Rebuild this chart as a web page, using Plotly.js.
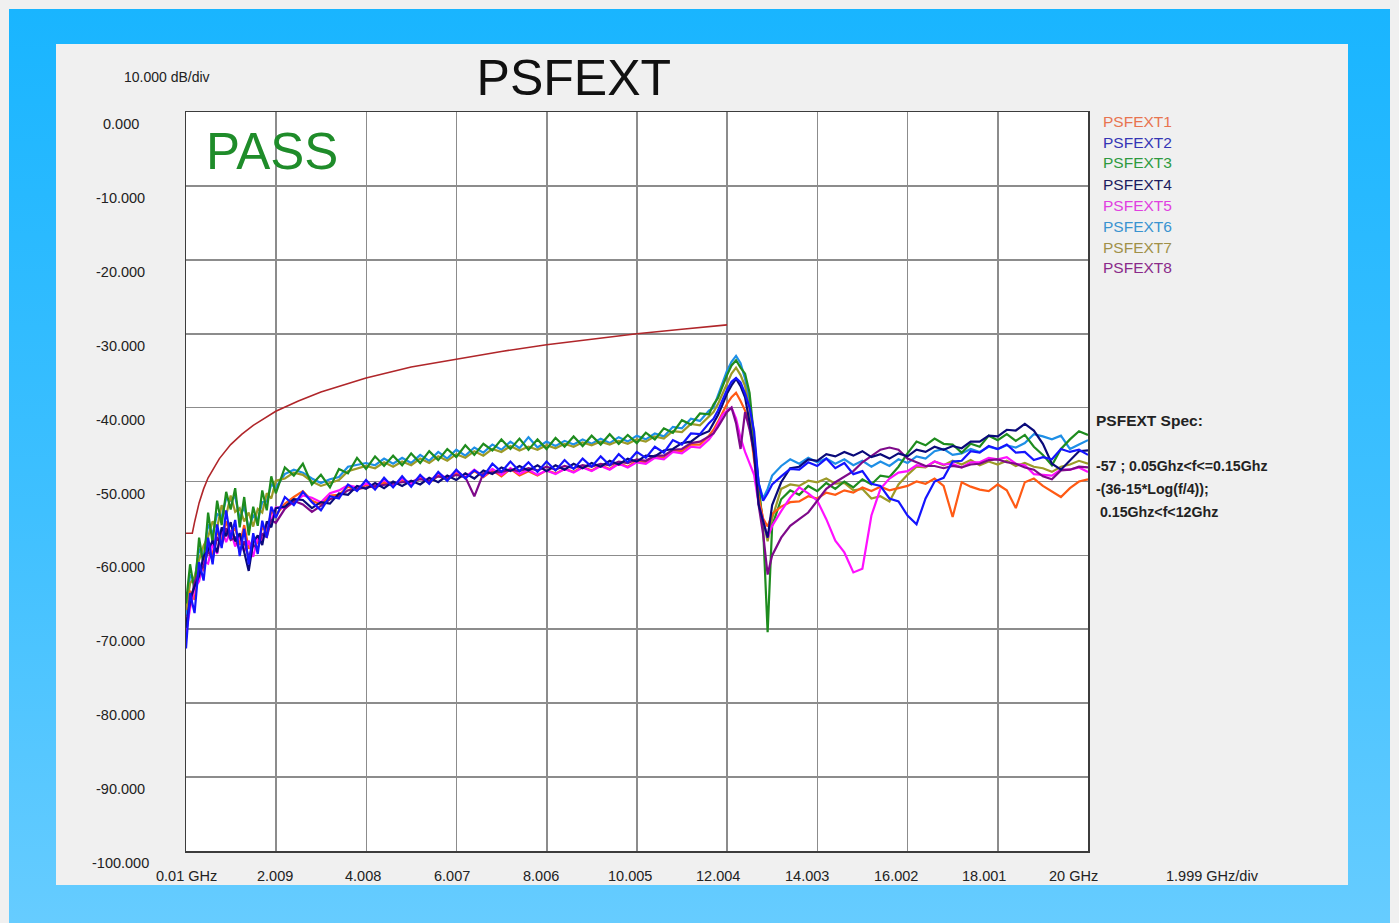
<!DOCTYPE html>
<html>
<head>
<meta charset="utf-8">
<script src="https://cdn.plot.ly/plotly-3.0.1.min.js"></script>
<style>
  html, body { margin: 0; padding: 0; background: #f0f0f0; width: 1399px; height: 923px; overflow: hidden; }
  #frame { position: absolute; left: 9px; top: 9px; width: 1381px; height: 914px;
           background: linear-gradient(180deg, #19b5ff 0%, #3fc0ff 55%, #66ccff 100%); }
  #chart { position: absolute; left: 56px; top: 44px; width: 1292px; height: 841px; }
</style>
</head>
<body>
<div id="frame"></div>
<div id="chart"></div>
<script>
// ---------------- DATA ----------------
const freqGHz = [
  0.01,0.1,0.2,0.3,0.4,0.5,0.6,0.7,0.8,0.9,1.0,1.1,1.2,1.3,1.4,1.5,1.6,1.7,1.8,1.9,2.0,
  2.2,2.4,2.6,2.8,3.0,3.2,3.4,3.6,3.8,4.0,4.2,4.4,4.6,4.8,5.0,5.2,5.4,5.6,5.8,6.0,6.2,6.4,6.6,6.8,7.0,7.2,7.4,7.6,7.8,8.0,8.2,8.4,8.6,8.8,9.0,9.2,9.4,9.6,9.8,10.0,10.2,10.4,10.6,10.8,11.0,11.2,11.4,11.6,
  11.7,11.8,11.9,12.0,12.1,12.2,12.3,12.4,12.5,12.6,12.7,12.8,12.9,13.0,
  13.2,13.4,13.6,13.8,14.0,14.2,14.4,14.6,14.8,15.0,15.2,15.4,15.6,15.8,16.0,16.2,16.4,16.6,16.8,17.0,17.2,17.4,17.6,17.8,18.0,18.2,18.4,18.6,18.8,19.0,19.2,19.4,19.6,19.8,20.0
];

const psfext1 = [
  -71.3,-64.8,-66.0,-61.5,-62.0,-58.3,-59.9,-56.8,-57.9,-55.4,-57.2,-56.3,-58.6,-55.9,-59.1,-57.8,-58.3,-56.2,-56.9,-54.1,-54.6,
  -53.0,-52.1,-51.3,-52.6,-53.1,-51.9,-51.8,-50.7,-51.2,-50.4,-50.9,-50.1,-50.6,-49.8,-50.4,-49.5,-50.2,-49.2,-49.8,-48.8,-49.5,-48.6,-49.4,-48.5,-49.3,-48.3,-49.2,-48.6,-49.2,-48.5,-48.9,-48.3,-48.7,-48.0,-48.5,-47.8,-48.3,-47.5,-48.0,-47.2,-47.4,-46.6,-46.8,-45.8,-45.9,-45.0,-45.0,-43.8,
  -43.0,-41.9,-40.6,-39.5,-38.6,-38.0,-39.1,-40.4,-42.1,-47.0,-52.1,-55.0,-56.1,-54.4,
  -53.4,-52.8,-52.7,-52.0,-52.3,-51.5,-51.8,-51.2,-51.5,-50.8,-51.3,-50.7,-51.2,-50.9,-50.6,-50.0,-50.3,-49.6,-50.6,-54.8,-50.1,-50.7,-51.1,-51.3,-50.4,-51.2,-53.6,-50.1,-49.6,-50.6,-51.4,-52.1,-50.9,-50.0,-49.7
];
const psfext2 = [
  -72.6,-65.1,-67.8,-60.9,-63.4,-57.6,-61.2,-55.8,-59.0,-53.9,-57.8,-55.2,-60.1,-56.4,-61.2,-57.0,-59.8,-55.3,-57.6,-53.4,-54.9,
  -52.1,-53.2,-51.4,-52.8,-53.9,-52.0,-52.3,-50.4,-51.3,-49.8,-51.1,-49.5,-50.8,-49.3,-50.7,-49.1,-50.3,-48.7,-49.9,-48.4,-49.6,-48.5,-49.3,-47.6,-48.7,-47.3,-48.6,-47.4,-48.7,-47.3,-48.5,-47.1,-48.3,-46.9,-48.0,-46.6,-47.8,-46.3,-47.4,-46.0,-46.8,-45.3,-46.1,-44.4,-45.0,-43.5,-43.6,-42.1,
  -41.5,-40.4,-39.0,-37.6,-36.5,-36.0,-36.6,-38.1,-40.0,-43.2,-50.2,-52.6,-51.6,-50.4,
  -49.3,-48.3,-48.4,-47.4,-47.9,-46.9,-48.2,-47.5,-49.0,-48.6,-50.3,-50.6,-52.3,-52.7,-54.6,-55.8,-52.3,-50.0,-49.5,-47.3,-47.2,-45.9,-46.1,-45.2,-45.6,-45.0,-46.1,-46.0,-47.1,-46.7,-47.0,-45.6,-46.0,-45.7,-46.4
];
const psfext3 = [
  -66.5,-61.2,-64.8,-57.6,-61.4,-54.2,-58.3,-52.6,-55.9,-51.4,-53.8,-50.9,-56.2,-52.1,-57.3,-53.4,-56.0,-51.2,-53.9,-49.3,-51.6,
  -48.1,-49.2,-47.6,-50.4,-49.1,-50.8,-48.3,-48.9,-46.8,-48.3,-46.6,-47.9,-46.5,-47.8,-46.2,-47.5,-45.9,-47.1,-45.6,-46.7,-45.1,-46.4,-44.9,-45.8,-44.3,-45.6,-44.2,-45.7,-44.3,-45.6,-44.1,-45.3,-43.9,-45.2,-43.8,-45.0,-43.6,-44.9,-43.7,-44.8,-43.4,-44.3,-42.8,-43.4,-41.7,-42.3,-40.8,-40.9,
  -39.6,-38.7,-37.0,-35.6,-34.3,-33.6,-34.6,-35.4,-38.0,-44.2,-51.0,-56.3,-70.4,-56.0,
  -52.4,-51.2,-51.8,-50.6,-51.3,-50.2,-51.0,-50.0,-50.8,-49.7,-50.4,-49.2,-49.4,-48.0,-46.2,-44.6,-45.1,-44.2,-44.9,-45.0,-46.1,-44.9,-45.3,-43.8,-44.4,-43.6,-44.5,-43.7,-45.3,-46.4,-47.8,-45.6,-44.3,-43.2,-43.7
];
const psfext4 = [
  -69.8,-66.0,-64.2,-62.8,-60.1,-59.3,-58.0,-59.6,-56.2,-57.4,-55.5,-58.1,-57.0,-59.4,-62.1,-58.2,-57.3,-58.6,-55.4,-56.2,-53.6,
  -53.4,-52.4,-52.5,-53.6,-52.8,-53.0,-51.6,-51.8,-50.6,-51.0,-50.2,-50.9,-50.0,-50.6,-49.9,-50.4,-49.5,-50.1,-49.2,-49.8,-48.9,-49.6,-48.5,-49.0,-48.1,-48.6,-47.9,-48.5,-47.8,-48.6,-47.8,-48.4,-47.6,-48.2,-47.5,-48.0,-47.2,-47.7,-46.9,-47.3,-46.5,-46.6,-45.8,-45.6,-44.8,-44.6,-43.7,-43.2,
  -42.1,-41.0,-39.6,-38.1,-37.0,-36.1,-37.1,-38.6,-42.0,-46.1,-53.1,-55.2,-57.6,-53.2,
  -50.1,-48.2,-48.0,-47.0,-47.2,-46.3,-46.6,-46.0,-46.5,-45.9,-46.7,-46.3,-46.9,-46.2,-46.6,-45.7,-46.0,-45.3,-45.7,-45.2,-45.5,-44.6,-44.6,-43.8,-43.9,-43.0,-43.1,-42.2,-43.1,-44.9,-47.6,-48.4,-47.1,-45.9,-45.8
];
const psfext5 = [
  -70.5,-67.2,-64.4,-63.5,-60.8,-61.1,-58.4,-59.8,-56.5,-58.2,-56.6,-58.8,-57.4,-59.5,-58.0,-60.2,-57.4,-58.1,-55.8,-55.3,-53.5,
  -53.6,-52.8,-51.9,-52.2,-52.8,-51.6,-51.2,-50.5,-50.8,-50.3,-50.6,-49.8,-50.5,-49.6,-50.3,-49.3,-50.0,-48.9,-49.6,-48.6,-49.4,-48.4,-49.3,-48.3,-49.1,-48.2,-49.0,-48.4,-49.1,-48.5,-49.0,-48.3,-48.8,-48.1,-48.6,-47.9,-48.4,-47.6,-48.1,-47.4,-47.6,-46.8,-47.0,-46.0,-46.2,-45.3,-45.4,-44.3,
  -43.5,-42.2,-41.0,-40.4,-40.0,-41.5,-44.1,-46.0,-47.6,-49.1,-53.0,-55.2,-57.6,-56.0,
  -54.0,-52.2,-50.8,-51.6,-52.6,-55.1,-58.0,-59.6,-62.3,-61.8,-54.6,-51.0,-49.6,-48.8,-48.6,-47.8,-48.0,-47.3,-47.7,-47.6,-48.1,-47.4,-47.4,-46.8,-47.0,-46.7,-47.6,-47.8,-49.0,-49.1,-49.2,-48.4,-48.4,-48.1,-48.7
];
const psfext6 = [
  -68.2,-62.6,-63.5,-59.1,-60.2,-55.8,-57.1,-54.4,-54.8,-52.3,-52.6,-52.0,-55.1,-53.3,-56.4,-54.6,-55.2,-52.8,-52.7,-50.4,-50.8,
  -49.0,-48.4,-48.8,-49.6,-50.2,-49.7,-49.4,-48.0,-47.8,-47.5,-47.8,-46.9,-47.6,-46.8,-47.5,-46.4,-47.2,-46.0,-46.9,-45.7,-46.5,-45.4,-46.1,-45.0,-45.7,-44.6,-45.5,-44.0,-45.4,-44.6,-45.2,-44.5,-45.0,-44.3,-44.9,-44.2,-44.8,-44.0,-44.6,-43.8,-44.3,-43.5,-43.9,-42.6,-42.8,-41.5,-41.8,-40.4,
  -40.0,-38.4,-36.6,-35.0,-33.8,-33.0,-34.0,-36.1,-39.2,-45.0,-50.2,-52.3,-51.0,-49.2,
  -47.9,-47.0,-47.6,-46.8,-47.4,-46.9,-47.6,-47.0,-47.8,-47.2,-48.0,-47.3,-47.9,-47.0,-47.5,-46.6,-46.9,-45.9,-45.6,-46.4,-46.2,-45.6,-46.0,-45.3,-45.6,-45.1,-45.4,-44.8,-43.6,-43.9,-44.3,-43.8,-45.6,-45.0,-44.4
];
const psfext7 = [
  -67.4,-63.8,-62.9,-60.6,-58.7,-57.5,-55.4,-56.3,-53.2,-54.6,-51.9,-54.1,-53.6,-55.4,-54.2,-56.1,-53.7,-54.2,-51.6,-52.3,-49.9,
  -49.6,-48.8,-49.1,-50.0,-50.6,-50.2,-49.8,-48.6,-48.3,-47.9,-48.2,-47.4,-48.0,-47.3,-47.8,-46.9,-47.5,-46.6,-47.2,-46.3,-46.8,-45.9,-46.5,-45.6,-46.0,-45.2,-45.8,-45.3,-45.7,-45.1,-45.5,-44.9,-45.3,-44.7,-45.1,-44.6,-45.0,-44.5,-44.9,-44.3,-44.6,-43.9,-44.2,-43.2,-43.3,-42.2,-42.4,-41.2,
  -40.6,-39.5,-38.1,-36.6,-35.4,-34.6,-35.6,-37.1,-40.2,-46.0,-51.8,-55.2,-58.1,-55.0,
  -51.0,-50.4,-50.6,-49.9,-50.1,-49.6,-50.3,-50.2,-51.2,-51.0,-52.3,-52.0,-52.7,-50.4,-49.1,-48.0,-48.1,-47.3,-47.8,-47.2,-47.7,-47.1,-47.8,-47.3,-47.7,-47.2,-47.9,-47.5,-48.0,-48.2,-48.7,-48.0,-47.7,-47.2,-47.6
];
const psfext8 = [
  -69.2,-66.4,-63.7,-62.2,-61.5,-59.4,-60.6,-57.5,-58.7,-56.3,-57.9,-57.6,-59.4,-58.1,-60.3,-58.6,-59.0,-57.1,-57.5,-55.2,-55.6,
  -53.7,-52.6,-53.1,-54.1,-53.3,-52.4,-52.0,-51.2,-51.0,-50.8,-50.7,-50.4,-50.3,-50.1,-50.0,-49.7,-49.9,-49.3,-49.6,-49.1,-49.4,-52.0,-48.9,-48.8,-48.7,-48.4,-48.6,-48.2,-48.5,-48.0,-48.4,-47.9,-48.2,-47.8,-48.0,-47.6,-47.8,-47.3,-47.5,-47.0,-47.2,-46.5,-46.5,-45.7,-45.6,-44.8,-44.6,-43.9,
  -43.5,-42.6,-41.6,-40.6,-40.0,-42.1,-45.6,-40.6,-43.0,-46.1,-53.2,-57.1,-62.6,-60.0,
  -57.6,-56.0,-55.1,-54.2,-52.6,-51.0,-50.1,-49.3,-48.6,-47.4,-46.6,-45.7,-45.4,-45.7,-46.9,-47.4,-47.9,-47.9,-48.2,-47.9,-48.1,-47.7,-47.6,-47.1,-47.0,-47.4,-47.6,-48.1,-48.4,-49.3,-49.7,-48.5,-48.4,-48.0,-48.1
];

// spec limit line
const limitFreq = [0.01,0.15,0.2,0.3,0.4,0.5,0.75,1.0,1.25,1.5,2.0,2.5,3.0,3.5,4.0,5.0,6.0,7.0,8.0,9.0,10.0,11.0,12.0];
const limitDb   = [-57,-57,-55.5,-52.9,-51.0,-49.5,-46.9,-45.0,-43.6,-42.4,-40.5,-39.1,-37.9,-36.9,-36.0,-34.5,-33.4,-32.4,-31.5,-30.7,-30.0,-29.4,-28.8];

const seriesNames = ['PSFEXT1','PSFEXT2','PSFEXT3','PSFEXT4','PSFEXT5','PSFEXT6','PSFEXT7','PSFEXT8'];
const seriesValues = [psfext1, psfext2, psfext3, psfext4, psfext5, psfext6, psfext7, psfext8];

const xTickVals   = [0.01, 2.009, 4.008, 6.007, 8.006, 10.005, 12.004, 14.003, 16.002, 18.001, 20];
const xTickLabels = ['0.01 GHz','2.009','4.008','6.007','8.006','10.005','12.004','14.003','16.002','18.001','20 GHz'];
const yTickVals   = [0, -10, -20, -30, -40, -50, -60, -70, -80, -90, -100];
const yTickLabels = ['0.000','-10.000','-20.000','-30.000','-40.000','-50.000','-60.000','-70.000','-80.000','-90.000','-100.000'];

const specLines = ['-57 ; 0.05Ghz&lt;f&lt;=0.15Ghz', '-(36-15*Log(f/4));', '&#160;0.15Ghz&lt;f&lt;12Ghz'];

// ---------------- STYLE ----------------
const lineColors = ['#ff5a14','#1414ff','#1e8c1e','#0a0a7a','#ff10ff','#1e8fe6','#9c9a28','#7e0a8a'];
const textColors = ['#e8744f','#3535b5','#2e9a3e','#1c1c60','#e040e0','#3a94d0','#a09048','#8a2a8a'];
const drawOrder = [5, 6, 2, 0, 4, 7, 3, 1];
const FONT = 'Liberation Sans, Arial, sans-serif';

const traces = [{
  x: limitFreq, y: limitDb, type: 'scatter', mode: 'lines',
  line: {color: '#b0262a', width: 1.6}, name: 'Limit', hoverinfo: 'skip'
}];
drawOrder.forEach(i => {
  traces.push({
    x: freqGHz, y: seriesValues[i], type: 'scatter', mode: 'lines',
    name: seriesNames[i], line: {color: lineColors[i], width: 2.2}, hoverinfo: 'skip'
  });
});

const annotations = [];
// y tick labels (centred, below each gridline)
yTickVals.forEach((v, i) => {
  annotations.push({x: -0.0721, xref: 'paper', y: v, yref: 'y', text: yTickLabels[i],
    showarrow: false, xanchor: 'center', yanchor: 'middle', yshift: -12,
    font: {family: FONT, size: 14.5, color: '#222'}});
});
// x tick labels
xTickVals.forEach((v, i) => {
  annotations.push({x: v, xref: 'x', y: 0, yref: 'paper', text: xTickLabels[i],
    showarrow: false, xanchor: 'center', yanchor: 'middle', yshift: -25, xshift: -1.5 * i,
    font: {family: FONT, size: 14.5, color: '#222'}});
});
annotations.push({x: -0.0211, xref: 'paper', y: 1, yref: 'paper', yshift: 35, text: '10.000 dB/div',
  showarrow: false, xanchor: 'center', yanchor: 'middle', font: {family: FONT, size: 14, color: '#222'}});
annotations.push({x: 1.1375, xref: 'paper', y: 0, yref: 'paper', yshift: -25, text: '1.999 GHz/div',
  showarrow: false, xanchor: 'center', yanchor: 'middle', font: {family: FONT, size: 14.5, color: '#222'}});
// PASS
annotations.push({x: 0.0200, xref: 'paper', y: 0.9459, yref: 'paper', text: 'PASS',
  showarrow: false, xanchor: 'left', yanchor: 'middle', font: {family: FONT, size: 51, color: '#1f8c2a'}});
// legend texts
seriesNames.forEach((n, i) => {
  annotations.push({x: 1.0144, xref: 'paper', y: 1 - (9 + 21 * i) / 739, yref: 'paper', text: n,
    showarrow: false, xanchor: 'left', yanchor: 'middle', font: {family: FONT, size: 15.5, color: textColors[i]}});
});
// spec text
annotations.push({x: 1.0067, xref: 'paper', y: 1 - 308 / 739, yref: 'paper', text: '<b>PSFEXT Spec:</b>',
  showarrow: false, xanchor: 'left', yanchor: 'middle', font: {family: FONT, size: 15.5, color: '#222'}});
[354, 377, 400].forEach((dy, i) => {
  annotations.push({x: 1.0067, xref: 'paper', y: 1 - dy / 739, yref: 'paper', text: '<b>' + specLines[i] + '</b>',
    showarrow: false, xanchor: 'left', yanchor: 'middle', font: {family: FONT, size: 14.2, color: '#222'}});
});

const axisCommon = {
  showgrid: true, gridcolor: '#8c8c8c', gridwidth: 1.6,
  showline: true, linecolor: '#3c3c3c', linewidth: 1.5, mirror: true,
  zeroline: false, showticklabels: false, ticks: '', fixedrange: true
};

const layout = {
  width: 1292, height: 841,
  margin: {l: 130, r: 260, t: 68, b: 34},
  paper_bgcolor: '#f0f0f0', plot_bgcolor: '#ffffff',
  showlegend: false,
  title: {text: 'PSFEXT', x: 0.43, xref: 'paper', xanchor: 'center', y: 1 - 33 / 841, yref: 'container', yanchor: 'middle',
          font: {family: FONT, size: 50, color: '#111'}},
  xaxis: Object.assign({range: [0.01, 20], tick0: 0.01, dtick: 1.999}, axisCommon),
  yaxis: Object.assign({range: [-100, 0], tick0: 0, dtick: 10}, axisCommon),
  annotations: annotations
};

Plotly.newPlot('chart', traces, layout, {displayModeBar: false, staticPlot: true});
</script>
</body>
</html>
